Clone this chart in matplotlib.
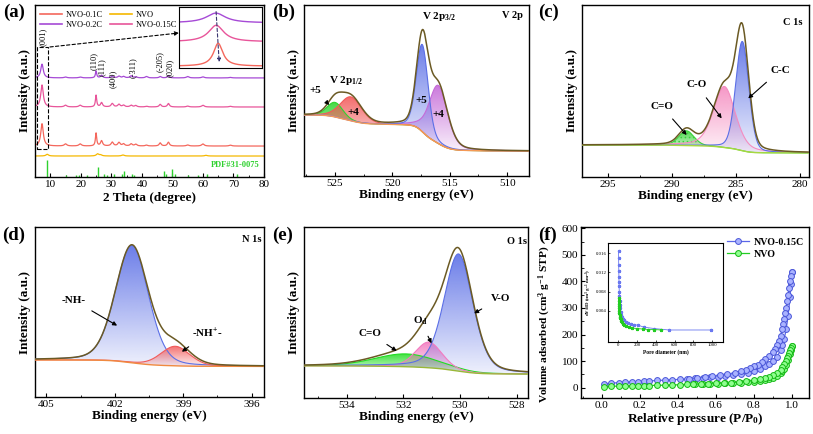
import numpy as np
import matplotlib
matplotlib.use("Agg")
import matplotlib.pyplot as plt
import matplotlib.colors as mcolors
from matplotlib.patches import Rectangle
from matplotlib.lines import Line2D
from matplotlib.ticker import MultipleLocator

plt.rcParams.update({
    "font.family": ["Liberation Serif", "DejaVu Serif"],
    "mathtext.fontset": "custom",
    "mathtext.rm": "Liberation Serif",
    "mathtext.bf": "Liberation Serif:bold",
    "mathtext.it": "Liberation Serif:italic",
    "mathtext.default": "bf",
    "axes.linewidth": 1.0,
    "hatch.linewidth": 0.6,
})

# ---------------- (a) XRD ----------------
XRD_POS = [7.3, 15.0, 19.8, 25.0, 26.8, 30.3, 32.5, 34.0, 36.5, 38.0, 41.5, 46.0, 48.7, 55.0, 60.0, 69.0]
XRD_HW = [0.5, 0.5, 0.5, 0.25, 0.4, 0.45, 0.45, 0.45, 0.45, 0.45, 0.45, 0.4, 0.4, 0.5, 0.5, 0.5]
XRD_01C = [0.13, 0.012, 0.012, 0.075, 0.03, 0.022, 0.02, 0.012, 0.012, 0.01, 0.005, 0.018, 0.022, 0.006, 0.012, 0.005]
XRD_015C = [0.128, 0.01, 0.01, 0.068, 0.025, 0.02, 0.015, 0.01, 0.01, 0.008, 0.004, 0.015, 0.02, 0.005, 0.01, 0.004]
XRD_02C = [0.08, 0.005, 0.005, 0.04, 0.015, 0.01, 0.01, 0.008, 0.012, 0.006, 0.008, 0.008, 0.012, 0.008, 0.006, 0.003]
XRD_BASE = {"NVO-0.1C": 0.18, "NVO-0.15C": 0.407, "NVO-0.2C": 0.576, "NVO": 0.122}
NVO_POS = [9.0, 25.5, 26.5, 33.8, 61.0]
NVO_INT = [0.01, 0.012, 0.006, 0.006, 0.004]
PDF_POS = [9.0, 15.3, 18.5, 19.5, 22.0, 25.5, 27.7, 28.5, 30.8, 33.5, 34.2, 36.8, 37.5, 47.1, 48.0, 49.8, 50.8, 55.0, 58.5, 61.2, 71.0]
PDF_INT = [0.1, 0.01, 0.01, 0.01, 0.01, 0.06, 0.02, 0.01, 0.02, 0.02, 0.035, 0.02, 0.01, 0.035, 0.015, 0.045, 0.02, 0.01, 0.01, 0.015, 0.015]
HKL_LABELS = ["(001)", "(110)", "(111)", "(400)", "(-311)", "(-205)", "(020)"]
HKL_X = [7.5, 24.2, 26.9, 30.5, 37.0, 46.0, 49.0]
HKL_Y = [0.76, 0.622, 0.585, 0.516, 0.575, 0.612, 0.583]
# inset of (a): (001) peak shift
INSET_CENTER = {"NVO-0.2C": 7.11, "NVO-0.15C": 7.12, "NVO-0.1C": 7.18}
INSET_HW = {"NVO-0.2C": 0.35, "NVO-0.15C": 0.28, "NVO-0.1C": 0.17}
INSET_BASE = {"NVO-0.2C": 0.74, "NVO-0.15C": 0.43, "NVO-0.1C": 0.03}
INSET_PEAK = {"NVO-0.2C": 0.16, "NVO-0.15C": 0.27, "NVO-0.1C": 0.375}
XRD_COLORS = {"NVO-0.1C": "#f4675c", "NVO": "#f5b800", "NVO-0.2C": "#a64ad6", "NVO-0.15C": "#e8559a"}

# ---------------- XPS fits (center, height, fwhm, eta) ----------------
B_CENTER = [525.0, 523.6, 516.0, 517.4]
B_HEIGHT = [0.085, 0.14, 0.34, 0.51]
B_FWHM = [1.6, 2.2, 1.9, 1.2]
B_ETA = [0.2, 0.2, 0.3, 0.2]
B_BG = (0.357, 0.146)
B_COLORS = ["#2fd42f", "#f25a5a", "#c56ad8", "#5b6fe6"]

C_CENTER = [288.85, 285.9, 284.5]
C_HEIGHT = [0.085, 0.355, 0.635]
C_FWHM = [1.4, 2.0, 1.2]
C_ETA = [0.2, 0.4, 0.2]
C_BG = (0.186, 0.14)
C_COLORS = ["#3ad33a", "#f58cc0", "#5b6fe6"]

N_CENTER = [401.25, 399.35]
N_HEIGHT = [0.69, 0.115]
N_FWHM = [1.7, 1.5]
N_ETA = [0.2, 0.2]
N_BG = (0.218, 0.18)
N_COLORS = ["#5b6fe6", "#f25a5a"]

O_CENTER = [531.9, 531.1, 530.05]
O_HEIGHT = [0.075, 0.15, 0.685]
O_FWHM = [2.6, 1.1, 1.2]
O_ETA = [0.2, 0.2, 0.3]
O_BG = (0.188, 0.14)
O_COLORS = ["#22dd22", "#f37bc0", "#5b6fe6"]

# ---------------- (f) BET ----------------
BLUE_P_ADS = [0.01, 0.05, 0.09, 0.12, 0.16, 0.19, 0.22, 0.25, 0.29, 0.33, 0.37, 0.41, 0.45, 0.49, 0.53, 0.57, 0.61, 0.65, 0.69, 0.73, 0.77, 0.80, 0.83, 0.86, 0.88, 0.90, 0.92, 0.94, 0.95, 0.96, 0.97, 0.98, 0.99, 0.995, 1.0]
BLUE_V_ADS = [14, 17, 19, 20, 22, 23, 24, 25, 27, 28, 30, 31, 33, 35, 37, 39, 41, 44, 47, 51, 57, 63, 71, 81, 90, 100, 115, 140, 160, 185, 220, 270, 340, 390, 435]
BLUE_P_DES = [1.0, 0.995, 0.99, 0.985, 0.98, 0.975, 0.97, 0.965, 0.96, 0.955, 0.95, 0.94, 0.93, 0.92, 0.91, 0.90, 0.88, 0.86, 0.84, 0.82, 0.80, 0.78, 0.76, 0.73, 0.70, 0.66, 0.62, 0.58, 0.54, 0.50, 0.46]
BLUE_V_DES = [435, 420, 400, 375, 350, 325, 300, 280, 260, 240, 222, 195, 175, 160, 147, 136, 120, 106, 96, 87, 80, 74, 68, 62, 56, 50, 46, 42, 39, 36, 34]
GREEN_P_ADS = BLUE_P_ADS
GREEN_V_ADS = [4, 5, 6, 6, 7, 7, 8, 8, 9, 9, 10, 11, 12, 12, 13, 14, 15, 16, 18, 19, 21, 23, 26, 30, 33, 38, 44, 54, 62, 72, 85, 103, 125, 140, 155]
GREEN_P_DES = [1.0, 0.995, 0.99, 0.985, 0.98, 0.975, 0.97, 0.96, 0.95, 0.94, 0.92, 0.90, 0.88, 0.86, 0.83, 0.80, 0.76, 0.72, 0.68, 0.64, 0.60, 0.56, 0.52, 0.48]
GREEN_V_DES = [155, 150, 140, 130, 120, 110, 102, 90, 78, 68, 56, 47, 41, 36, 31, 27, 24, 21, 19, 17, 16, 15, 14, 13]
PSD_D_BLUE = [2, 3, 4, 5, 6, 7, 8, 10, 12, 15, 18, 22, 27, 33, 40, 50, 62, 78, 100, 130, 170, 210, 270, 380, 540, 990]
PSD_V_BLUE = [0.0165, 0.0150, 0.0135, 0.0122, 0.0110, 0.0100, 0.0092, 0.0080, 0.0070, 0.0060, 0.0052, 0.0045, 0.0038, 0.0032, 0.0027, 0.0023, 0.0020, 0.0017, 0.0015, 0.0013, 0.0011, 0.0010, 0.0006, 0.0003, 0.0, 0.0]
PSD_D_GREEN = [2, 3, 4, 5, 6, 8, 10, 13, 16, 20, 25, 32, 40, 50, 65, 85, 110, 150, 200, 260, 320, 380, 450]
PSD_V_GREEN = [0.0067, 0.0060, 0.0054, 0.0049, 0.0045, 0.0039, 0.0035, 0.0031, 0.0028, 0.0025, 0.0022, 0.0019, 0.0016, 0.0013, 0.0010, 0.0008, 0.0006, 0.0004, 0.0003, 0.0002, 0.0001, 0.0001, 0.0]

W, H = 813, 434
ENV_C = "#6b5a24"


def rect(l, t, r, b):
    return [l / W, 1 - b / H, (r - l) / W, (b - t) / H]


def lor(x, pos, h, hw):
    out = np.zeros_like(x)
    for p, a, w in zip(pos, h, hw):
        out += a / (1 + ((x - p) / w) ** 2)
    return out


def pv(x, c, h, fwhm, eta):
    g = np.exp(-4 * np.log(2) * ((x - c) / fwhm) ** 2)
    l = 1 / (1 + 4 * ((x - c) / fwhm) ** 2)
    return h * ((1 - eta) * g + eta * l)


def grad_fill(ax, x, lo, hi, color, z):
    poly = ax.fill_between(x, lo, hi, facecolor="none", edgecolor="none", zorder=z)
    img = np.ones((256, 1, 4))
    img[..., :3] = mcolors.to_rgb(color)
    img[:, 0, 3] = np.linspace(0.1, 0.9, 256)
    im = ax.imshow(img, extent=(x.min(), x.max(), lo.min(), hi.max()), origin="lower",
                   aspect="auto", interpolation="bilinear", zorder=z)
    im.set_clip_path(poly.get_paths()[0], ax.transData)


def style(ax, major, minor, labelsize=8):
    ax.tick_params(which="both", direction="in", top=False, right=False, labelsize=labelsize, pad=2)
    ax.tick_params(which="major", length=3, width=0.8)
    ax.tick_params(which="minor", length=1.8, width=0.6)
    ax.xaxis.set_major_locator(MultipleLocator(major))
    ax.xaxis.set_minor_locator(MultipleLocator(minor))


def xps(ax, lim, centers, heights, fwhms, etas, colors, bg_lr, bg_c, hatch=None):
    x = np.linspace(lim[1], lim[0], 1500)
    comps = [pv(x, c, h, f, e) for c, h, f, e in zip(centers, heights, fwhms, etas)]
    total = np.sum(comps, axis=0)
    cum = np.cumsum(total)
    bg = bg_lr[1] + (bg_lr[0] - bg_lr[1]) * cum / cum[-1]
    for i, (comp, col) in enumerate(zip(comps, colors)):
        grad_fill(ax, x, bg, bg + comp, col, 2 + i)
        if hatch is not None and i == hatch:
            ax.fill_between(x, bg, bg + comp, facecolor="none", edgecolor=col, hatch="....",
                            lw=0, zorder=2 + i)
        ax.plot(x, bg + comp, color=col, lw=0.8, zorder=6)
    ax.plot(x, bg, color=bg_c, lw=1.0, zorder=7)
    ax.plot(x, bg + total, color=ENV_C, lw=1.1, zorder=8)
    ax.set_xlim(lim)
    ax.set_ylim(0, 1)
    ax.set_yticks([])
    ax.set_ylabel("Intensity (a.u.)", fontsize=9.5, fontweight="bold", labelpad=3)
    ax.set_xlabel("Binding energy (eV)", fontsize=9.5, fontweight="bold", labelpad=1)


def note(ax, text, xy, xytext):
    ax.annotate(text, xy=xy, xytext=xytext, fontsize=8, fontweight="bold", ha="center", va="center",
                zorder=10, arrowprops=dict(arrowstyle="-|>", color="k", lw=0.8, mutation_scale=6,
                                           shrinkA=5, shrinkB=0))


fig = plt.figure(figsize=(8.13, 4.34), dpi=100)

# ---- (a)
ax = fig.add_axes(rect(35, 5, 264, 177))
x = np.linspace(5, 80, 3000)
for name, h in [("NVO-0.1C", XRD_01C), ("NVO-0.15C", XRD_015C), ("NVO-0.2C", XRD_02C)]:
    ax.plot(x, XRD_BASE[name] + lor(x, XRD_POS, h, XRD_HW), color=XRD_COLORS[name], lw=0.9)
ax.plot(x, XRD_BASE["NVO"] + lor(x, NVO_POS, NVO_INT, [0.5] * len(NVO_POS)), color=XRD_COLORS["NVO"], lw=0.9)
ax.vlines(PDF_POS, 0, PDF_INT, color="#2ed12e", lw=1.0)
ax.text(78.5, 0.07, "PDF#31-0075", color="#2ed12e", fontsize=6, fontweight="bold", ha="right", va="center")
for lab, hx, hy in zip(HKL_LABELS, HKL_X, HKL_Y):
    ax.text(hx, hy, lab, rotation=90, fontsize=6, ha="center", va="bottom")
ax.add_patch(Rectangle((5.5, 0.163), 3.9, 0.593, fill=False, ls="--", lw=0.8, zorder=5))
ax.set_xlim(5, 80)
ax.set_ylim(0, 1)
ax.set_yticks([])
style(ax, 10, 5)
ax.set_xlabel("2 Theta (degree)", fontsize=9.5, fontweight="bold", labelpad=2)
ax.set_ylabel("Intensity (a.u.)", fontsize=9.5, fontweight="bold", labelpad=3)
order = ["NVO-0.1C", "NVO-0.2C", "NVO", "NVO-0.15C"]
ax.legend([Line2D([0], [0], color=XRD_COLORS[n], lw=1.2) for n in order], order, ncol=2,
          loc="upper left", bbox_to_anchor=(-0.01, 1.01), frameon=False, fontsize=6,
          handlelength=2.6, columnspacing=0.8, labelspacing=0.3, handletextpad=0.5)
ax.annotate("", xy=(179 / W, 1 - 33 / H), xycoords="figure fraction", xytext=(9.9, 0.756),
            textcoords="data", arrowprops=dict(arrowstyle="-|>", ls=(0, (3, 2)), color="k", lw=0.8,
                                               mutation_scale=6, shrinkA=0, shrinkB=0))
axi = fig.add_axes(rect(179, 7, 262, 68))
xi = np.linspace(6.0, 8.5, 400)
for name in ["NVO-0.2C", "NVO-0.15C", "NVO-0.1C"]:
    axi.plot(xi, INSET_BASE[name] + lor(xi, [INSET_CENTER[name]], [INSET_PEAK[name]], [INSET_HW[name]]),
             color=XRD_COLORS[name], lw=1.0)
axi.annotate("", xy=(0.486, 0.05), xytext=(0.445, 0.97), xycoords="axes fraction",
             arrowprops=dict(arrowstyle="-|>", ls=(0, (3, 2)), color="#3a3570", lw=0.8, mutation_scale=5))
axi.set_xlim(6.0, 8.5)
axi.set_ylim(0, 1)
axi.set_xticks([])
axi.set_yticks([])
for s in axi.spines.values():
    s.set_linewidth(0.8)

# ---- (b)
ax = fig.add_axes(rect(304, 5, 529, 176))
xps(ax, (527.7, 508.1), B_CENTER, B_HEIGHT, B_FWHM, B_ETA, B_COLORS, B_BG, "#f59a55")
style(ax, 5, 2.5)
ax.text(524.0, 0.56, "V 2p$_{1/2}$", fontsize=8, fontweight="bold", ha="center", va="center")
ax.text(515.9, 0.93, "V 2p$_{3/2}$", fontsize=8, fontweight="bold", ha="center", va="center")
ax.text(509.5, 0.94, "V 2p", fontsize=7.5, fontweight="bold", ha="center", va="center")
note(ax, "+5", (525.5, 0.415), (526.7, 0.50))
ax.text(523.4, 0.37, "+4", fontsize=8, fontweight="bold", ha="center", va="center", zorder=10)
ax.text(517.5, 0.44, "+5", fontsize=8, fontweight="bold", ha="center", va="center", zorder=10)
ax.text(516.0, 0.357, "+4", fontsize=8, fontweight="bold", ha="center", va="center", zorder=10)

# ---- (c)
ax = fig.add_axes(rect(582, 5, 809, 177))
xps(ax, (297.0, 279.3), C_CENTER, C_HEIGHT, C_FWHM, C_ETA, C_COLORS, C_BG, "#a8d840", hatch=0)
style(ax, 5, 2.5)
ax.text(280.6, 0.90, "C 1s", fontsize=7.5, fontweight="bold", ha="center", va="center")
note(ax, "C-C", (284.04, 0.457), (281.57, 0.62))
note(ax, "C-O", (286.11, 0.341), (288.06, 0.535))
note(ax, "C=O", (288.84, 0.244), (290.79, 0.41))

# ---- (d)
ax = fig.add_axes(rect(35, 227, 264, 397))
xps(ax, (405.5, 395.46), N_CENTER, N_HEIGHT, N_FWHM, N_ETA, N_COLORS, N_BG, "#f08a40")
style(ax, 3, 1.5)
ax.text(396.0, 0.928, "N 1s", fontsize=7.5, fontweight="bold", ha="center", va="center")
note(ax, "-NH-", (401.9, 0.42), (403.82, 0.57))
note(ax, "-NH$^{+}$-", (399.06, 0.266), (397.96, 0.375))

# ---- (e)
ax = fig.add_axes(rect(304, 227, 528, 398))
xps(ax, (535.5, 527.6), O_CENTER, O_HEIGHT, O_FWHM, O_ETA, O_COLORS, O_BG, "#9ab838")
style(ax, 2, 1)
ax.text(528.0, 0.914, "O 1s", fontsize=7.5, fontweight="bold", ha="center", va="center")
note(ax, "V-O", (529.5, 0.495), (528.58, 0.583))
note(ax, "O$_{d}$", (531.0, 0.32), (531.4, 0.45))
note(ax, "C=O", (532.23, 0.275), (533.17, 0.378))

# ---- (f)
ax = fig.add_axes(rect(581, 227, 809, 398))
kw_b = dict(color="#5a66e8", marker="o", ms=4.2, mfc="#aab3ff", mec="#4a56d8", mew=0.7, lw=0.9)
kw_g = dict(color="#22cc22", marker="o", ms=4.2, mfc="#90ff90", mec="#12b812", mew=0.7, lw=0.9)
ax.plot(BLUE_P_ADS, BLUE_V_ADS, **kw_b)
ax.plot(BLUE_P_DES, BLUE_V_DES, **kw_b)
ax.plot(GREEN_P_ADS, GREEN_V_ADS, **kw_g)
ax.plot(GREEN_P_DES, GREEN_V_DES, **kw_g)
ax.set_xlim(-0.11, 1.09)
ax.set_ylim(-39, 605)
style(ax, 0.2, 0.1)
ax.yaxis.set_major_locator(MultipleLocator(100))
ax.yaxis.set_minor_locator(MultipleLocator(50))
ax.set_xlabel("Relative pressure (P/P$_0$)", fontsize=9.5, fontweight="bold", labelpad=1)
ax.set_ylabel("Volume adsorbed (cm$^3$ g$^{-1}$ STP)", fontsize=8.2, fontweight="bold")
ax.yaxis.set_label_coords(-0.123, 0.43)
ax.legend([Line2D([0], [0], **kw_b), Line2D([0], [0], **kw_g)], ["NVO-0.15C", "NVO"],
          loc="upper right", bbox_to_anchor=(1.02, 0.99), frameon=False,
          prop=dict(size=7.2, weight="bold"), handlelength=2.2, labelspacing=0.3, handletextpad=0.5)
axi = fig.add_axes(rect(608, 243, 723, 342))
axi.plot(PSD_D_BLUE, PSD_V_BLUE, color="#6a78f0", marker="*", ms=2.2, lw=0.6)
axi.plot(PSD_D_GREEN, PSD_V_GREEN, color="#22cc22", marker="*", ms=2.2, lw=0.6)
axi.set_xlim(-110, 1115)
axi.set_ylim(-0.0025, 0.0181)
axi.set_xticks([0, 200, 400, 600, 800, 1000])
axi.set_yticks([0.004, 0.008, 0.012, 0.016])
axi.set_yticklabels(["0.004", "0.008", "0.012", "0.016"])
axi.tick_params(direction="in", labelsize=3.5, length=1.5, width=0.5, pad=1)
axi.set_xlabel("Pore diameter (nm)", fontsize=4, fontweight="bold", labelpad=1)
axi.set_ylabel("dV/dD (cm$^3$ g$^{-1}$ nm$^{-1}$)", fontsize=3.5, fontweight="bold", labelpad=1)
for s in axi.spines.values():
    s.set_linewidth(0.8)

for lab, px, py in [("(a)", 3, 12), ("(b)", 272, 12), ("(c)", 538, 12),
                    ("(d)", 2, 235), ("(e)", 272, 235), ("(f)", 538, 235)]:
    fig.text(px / W, 1 - py / H, lab, fontsize=13.5, fontweight="bold", ha="left", va="center")

fig.savefig("out.png", dpi=100)
